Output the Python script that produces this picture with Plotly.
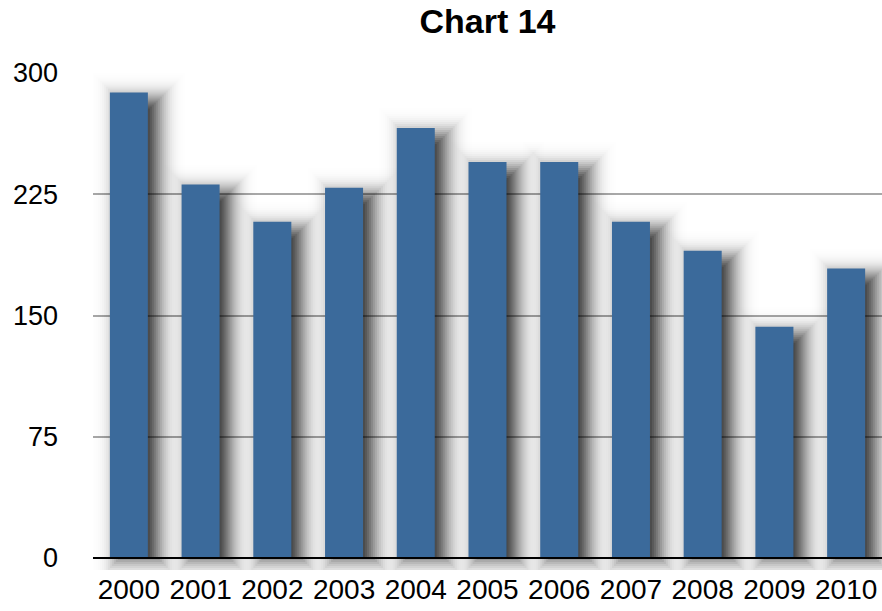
import math
import plotly.graph_objects as go

# Annual values, 2000-2010
years = ["2000", "2001", "2002", "2003", "2004", "2005",
         "2006", "2007", "2008", "2009", "2010"]
values = [288, 231, 208, 229, 266, 245, 245, 208, 190, 143, 179]
y_ticks = [0, 75, 150, 225, 300]

BAR_COLOR = "#3b6a9b"
BAR_WIDTH = 0.53          # in category units
PX_X = 1 / 71.7           # one pixel in category units
PX_Y = 300 / 485          # one pixel in value units
BELOW_PX = 12             # room under the baseline for the shadow

fig = go.Figure()

# Soft drop shadow: stacked translucent rectangles whose combined opacity
# follows a Gaussian falloff (approximates a blurred, offset copy of each bar)
SH_DX, SH_DY, SIGMA, STRENGTH, STEP = 10, 8, 11.0, 0.9, 2


def target(d):
    return STRENGTH * 0.5 * (1 - math.erf(d / (SIGMA * math.sqrt(2))))


radii = list(range(-18, 36, STEP))
for r in reversed(radii):
    outer = 1 - target(r + STEP)
    alpha = 1 - (1 - target(r)) / outer if outer > 0 else 0
    if alpha <= 0.002:
        continue
    w = BAR_WIDTH + 2 * r * PX_X
    off = -BAR_WIDTH / 2 + (SH_DX - r) * PX_X
    base = -max(r, 0) * PX_Y
    fig.add_trace(go.Bar(
        x=years,
        y=[v + (r - SH_DY) * PX_Y - base for v in values],
        base=base,
        width=w,
        offset=off,
        marker=dict(color=f"rgba(0,0,0,{alpha:.4f})", line=dict(width=0)),
        hoverinfo="skip",
        showlegend=False,
    ))

# Main bars
fig.add_trace(go.Bar(
    x=years,
    y=values,
    width=BAR_WIDTH,
    offset=-BAR_WIDTH / 2,
    marker=dict(color=BAR_COLOR, line=dict(width=0)),
    showlegend=False,
))

# Baseline axis
fig.add_hline(y=0, line=dict(color="black", width=2), layer="above")

fig.update_layout(
    width=882,
    height=611,
    barmode="overlay",
    paper_bgcolor="white",
    plot_bgcolor="white",
    margin=dict(l=93, r=0, t=73, b=53 - BELOW_PX),
    font=dict(family="Liberation Sans, Arial, Helvetica, sans-serif",
              color="black"),
    title=dict(
        text="<b>Chart 14</b>",
        font=dict(size=34, color="black"),
        x=0.5, xref="paper", xanchor="center",
        y=1 - 21 / 611, yref="container", yanchor="middle",
    ),
    xaxis=dict(
        type="category",
        range=[-0.5, len(years) - 0.5],
        tickfont=dict(size=28),
        showgrid=False,
        showline=False,
        ticks="",
        ticklabelstandoff=0,
    ),
    yaxis=dict(
        range=[-BELOW_PX * PX_Y, 300],
        tickvals=y_ticks,
        tickfont=dict(size=27),
        showgrid=True,
        gridcolor="#a8a8a8",
        gridwidth=2,
        zeroline=False,
        showline=False,
        ticks="",
        ticklabelstandoff=34,
    ),
)

fig.write_html("out.html")
